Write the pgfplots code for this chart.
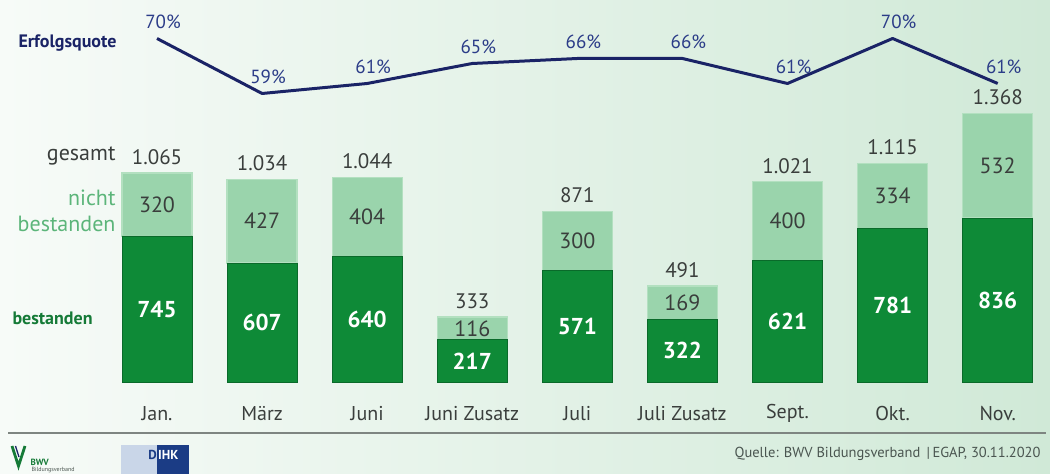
\documentclass[border=0pt]{standalone}
\usepackage{fontspec}
\setmainfont{PT Sans}
\usepackage{pgfplots}
\pgfplotsset{compat=1.18}
\usepackage{pgfplotstable}

\definecolor{darkg}{HTML}{0E8A37}
\definecolor{darkgb}{HTML}{0A6A2A}
\definecolor{lightg}{HTML}{9AD4AC}
\definecolor{lightedge}{HTML}{B3E0C0}
\definecolor{navy}{HTML}{1A2366}
\definecolor{pctc}{HTML}{2B3C88}
\definecolor{txtg}{HTML}{3A3E3C}
\definecolor{midg}{HTML}{5CB57A}
\definecolor{labg}{HTML}{157A37}
\definecolor{bgL}{HTML}{F7FBF8}
\definecolor{bgM}{HTML}{E1F0E5}
\definecolor{bgR}{HTML}{D0E9D7}
\definecolor{sepg}{HTML}{7E8581}
\definecolor{srcg}{HTML}{4A5550}
\definecolor{dihkL}{HTML}{C9D6E8}
\definecolor{dihkN}{HTML}{1B3C85}

\newcommand{\fs}[1]{\fontsize{#1}{#1}\selectfont}

\pgfplotstableread{
x pass fail total pct
0 745 320 1065 70
1 607 427 1034 59
2 640 404 1044 61
3 217 116 333 65
4 571 300 871 66
5 322 169 491 66
6 621 400 1021 61
7 781 334 1115 70
8 836 532 1368 61
}\data

\pgfplotsset{
  base/.style={at={(0pt,0pt)}, anchor=south west, scale only axis,
    width=1050pt, height=474pt, xmin=-1.494, xmax=8.497, hide axis, clip=false},
  barunits/.style={base, ymin=-465.2, ymax=1944.6},
  lab/.style={draw=none, mark=none, point meta=explicit,
    every node near coord/.append style={anchor=center}},
}

\begin{document}
\begin{tikzpicture}
\path[use as bounding box] (0pt,0pt) rectangle (1050pt,474pt);
\shade[left color=bgL, middle color=bgM, right color=bgR] (0pt,0pt) rectangle (1050pt,474pt);

% stacked bars
\begin{axis}[barunits, ybar stacked, bar width=70pt]
\addplot[fill=darkg, draw=darkgb, line width=0.8pt] table[x=x,y=pass]{\data};
\addplot[fill=lightg, draw=lightedge, line width=1.2pt] table[x=x,y=fail]{\data};
\end{axis}

% labels in bar units
\begin{axis}[barunits]
\addplot[lab, nodes near coords={\pgfmathprintnumber[assume math mode=true]{\pgfplotspointmeta}},
  every node near coord/.append style={font=\bfseries\fs{23}, text=white}]
  table[x=x, y expr=0.5*\thisrow{pass}, meta=pass]{\data};
\addplot[lab, nodes near coords={\pgfmathprintnumber[assume math mode=true]{\pgfplotspointmeta}},
  every node near coord/.append style={font=\fs{22}, text=txtg}]
  table[x=x, y expr=\thisrow{pass}+0.5*\thisrow{fail}, meta=fail]{\data};
\addplot[lab, nodes near coords={\pgfmathprintnumber[assume math mode=true,1000 sep={.}]{\pgfplotspointmeta}},
  every node near coord/.append style={font=\fs{21}, text=txtg, yshift=16pt}]
  table[x=x, y=total, meta=total]{\data};
\addplot[draw=none, mark=none, point meta=explicit symbolic, nodes near coords,
  every node near coord/.append style={anchor=center, font=\fs{20}, text=txtg}]
  coordinates {(0,-157)[Jan.] (1,-157)[März] (2,-157)[Juni] (3,-157)[Juni Zusatz]
    (4,-157)[Juli] (5,-157)[Juli Zusatz] (6,-157)[Sept.] (7,-157)[Okt.] (8,-157)[Nov.]};
\end{axis}

% success rate line
\begin{axis}[base, ymin=-17.1, ymax=77.7]
\addplot[navy, line width=3pt, mark=none, line join=round] table[x=x,y=pct]{\data};
\addplot[lab, nodes near coords={\pgfmathprintnumber[assume math mode=true]{\pgfplotspointmeta}\%},
  every node near coord/.append style={font=\fs{19}, text=pctc, xshift=6pt, yshift=17pt}]
  table[x=x, y=pct, meta=pct]{\data};
\end{axis}

% side labels
\node[anchor=west, font=\bfseries\fs{18}, text=navy] at (15pt,431pt) {Erfolgsquote};
\node[anchor=east, font=\fs{22}, text=txtg] at (119pt,318pt) {gesamt};
\node[anchor=east, align=right, font=\fontsize{22}{26}\selectfont, text=midg] at (119pt,263pt) {nicht\\bestanden};
\node[anchor=west, font=\bfseries\fs{18}, text=labg] at (9pt,156pt) {bestanden};

% separator and footer
\draw[sepg, line width=2.5pt] (8pt,41pt) -- (1046pt,41pt);
\node[anchor=east, font=\fs{14.5}, text=srcg] at (1044pt,20pt) {Quelle: BWV Bildungsverband \,|\,EGAP, 30.11.2020};

% logos
\draw[labg, line width=2.8pt, line join=miter] (12pt,28pt) -- (18.5pt,8pt) -- (25pt,28pt);
\draw[navy, line width=1.3pt] (15.5pt,28pt) -- (19pt,17pt);
\node[anchor=west, font=\bfseries\fs{9}, text=labg] at (27pt,12pt) {BWV};
\node[anchor=west, font=\fs{6}, text=srcg] at (28pt,4pt) {Bildungsverband};
\fill[dihkL] (121pt,0pt) rectangle (157pt,29pt);
\fill[dihkN] (157pt,0pt) rectangle (189pt,29pt);
\node[anchor=east, font=\bfseries\fs{13}, text=dihkN, inner sep=0pt] at (157pt,19pt) {D};
\node[anchor=west, font=\bfseries\fs{13}, text=white, inner sep=0pt] at (158pt,19pt) {IHK};
\end{tikzpicture}
\end{document}
